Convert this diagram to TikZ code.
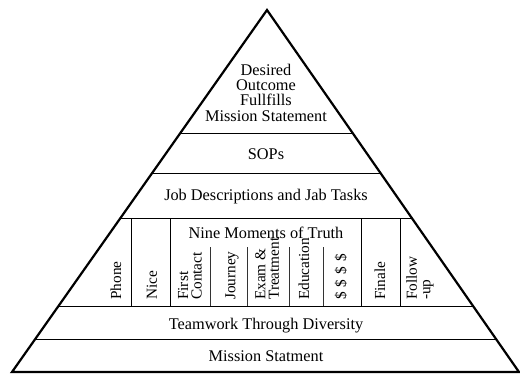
\documentclass[tikz,border=0pt]{standalone}
\usepackage{fontspec}
\setmainfont{Liberation Serif}
\usetikzlibrary{calc}
\begin{document}
\begin{tikzpicture}[x=1pt,y=-1pt,
  outline/.style={line width=2.2pt, line join=miter},
  band/.style={line width=1pt},
  cell/.style={line width=0.9pt},
  subcell/.style={line width=0.6pt, black!80},
  label/.style={font=\fontsize{16.3}{15.3}\selectfont, inner sep=0pt, align=center, anchor=base},
  vlabel/.style={font=\fontsize{15.3}{13.5}\selectfont, inner sep=0pt, align=left, rotate=90, anchor=west}]
\useasboundingbox (0,0) rectangle (520,373);
\coordinate (A) at (267,10);
\coordinate (L) at (12,372);
\coordinate (R) at (519,372);

% horizontal tiers, cut to the pyramid
\begin{scope}
  \clip (A) -- (L) -- (R) -- cycle;
  \foreach \y in {133,173,218,306,339} \draw[band] (0,\y) -- (520,\y);
\end{scope}

% cells of the middle tier
\foreach \x in {131,170,361,400} \draw[cell] (\x,218) -- (\x,306);
\foreach \x in {210,247,289,323} \draw[subcell] (\x,247) -- (\x,306);

% pyramid outline
\draw[outline] (A) -- (L) -- (R) -- cycle;

% tier labels
\node[label] (top) at (266,121) {Desired\\Outcome\\Fullfills\\Mission Statement};
\node[label] (sops) at (266,159) {SOPs};
\node[label] (jobs) at (266,200) {Job Descriptions and Jab Tasks};
\node[label] (nine) at (266,238) {Nine Moments of Truth};
\node[label] (team) at (266,329) {Teamwork Through Diversity};
\node[label] (mission) at (266,361) {Mission Statment};

% moments of truth, set upright
\node[vlabel] (phone) at (116,300) {Phone};
\node[vlabel] (nice) at (152,300) {Nice};
\node[vlabel] (first) at (190,300) {First\\Contact};
\node[vlabel] (journey) at (232,300) {Journey};
\node[vlabel] (exam) at (267,300) {Exam \&\\Treatment};
\node[vlabel] (edu) at (304,300) {Education};
\node[vlabel] (money) at (341,300) {\$\hspace{5pt}\$\hspace{5pt}\$\hspace{5pt}\$};
\node[vlabel] (finale) at (380,300) {Finale};
\node[vlabel] (follow) at (420,300) {Follow\\-up};
\end{tikzpicture}
\end{document}
